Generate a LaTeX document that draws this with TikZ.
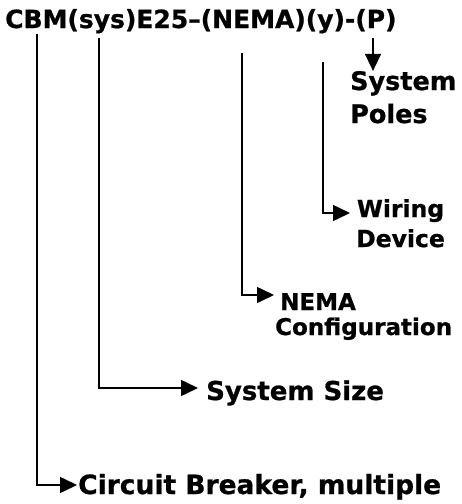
\documentclass[tikz,border=0pt]{standalone}
\usepackage{fontspec}
\setmainfont{DejaVu Sans}[BoldFeatures={FakeBold=0.8}]
\usepackage{tikz}
\usetikzlibrary{arrows.meta,positioning,calc}

\begin{document}
\begin{tikzpicture}[x=1pt,y=-1pt,
    conn/.style={line width=1.6pt,-{Triangle[length=17pt,width=16pt]}},
    lbl/.style 2 args={inner sep=0pt,anchor=base west,
                       font=\bfseries\fontsize{#1}{#2}\selectfont}]
  \useasboundingbox (0,0) rectangle (462,504);

  %% part number
  \node[lbl={25}{25}] (code) at (5,28) {CBM(sys)E25--(NEMA)(y)-(P)};

  %% where each leader starts
  \coordinate (cbmtop)  at (37,34);
  \coordinate (systop)  at (99,38);
  \coordinate (nematop) at (242,53);
  \coordinate (ytop)    at (323,62);
  \coordinate (ptop)    at (373,38);

  %% labels (placed at the baseline of their last line)
  \node[lbl={25.5}{33},align=left] (poles) at (350,123) {System\\Poles};
  \node[lbl={23.5}{30},align=center] (wiring) at (356,247) {Wiring\\Device};
  \node[lbl={23}{25},align=left] (nema) at (275,335)
        {\hspace{5pt}NEMA\\Configuration};
  \node[lbl={26}{26}] (size) at (206,400) {System Size};
  \node[lbl={26.5}{26.5}] (cbm) at (78,494) {Circuit Breaker, multiple};

  %% leaders
  \draw[conn] (ptop) -- (ptop |- poles.north);
  \draw[conn] (ytop) |- ($(wiring.base west)+(-6,-34)$);
  \draw[conn] (nematop) |- ($(nema.base west)+(-1,-40)$);
  \draw[conn] (systop) |- ($(size.base west)+(-8,-12)$);
  \draw[conn] (cbmtop) |- ($(cbm.base west)+(-1,-9)$);
\end{tikzpicture}
\end{document}
